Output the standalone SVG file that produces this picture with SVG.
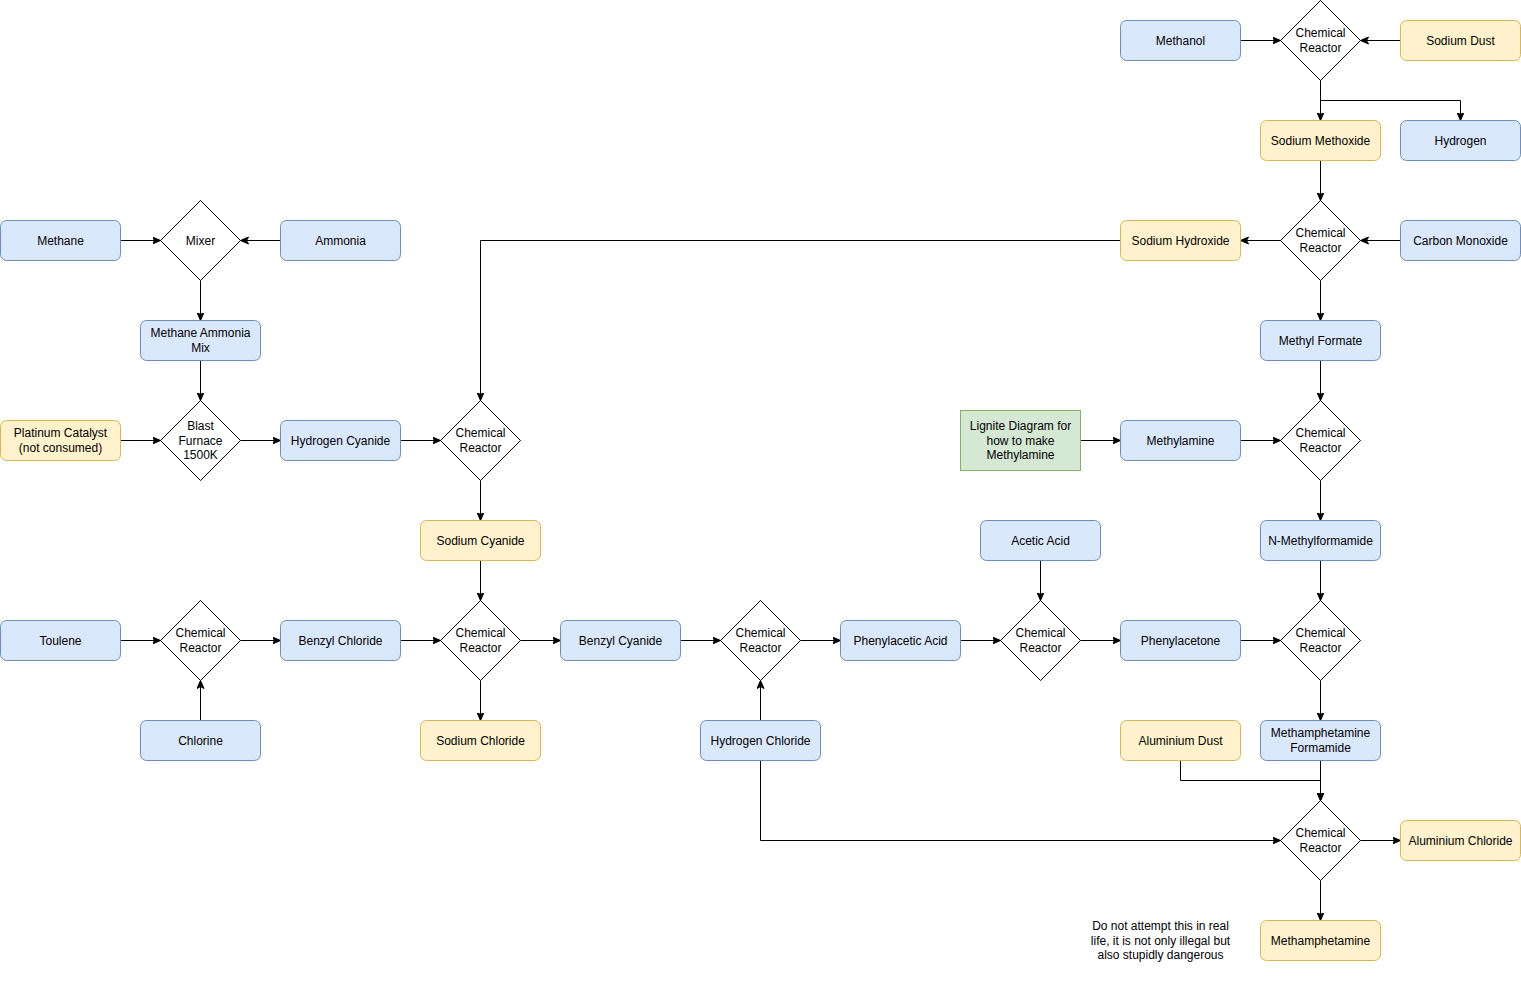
<svg xmlns="http://www.w3.org/2000/svg" width="1521" height="981" viewBox="0 0 1521 981">
<style>
text{font-family:"Liberation Sans",Arial,sans-serif;font-size:12px;fill:#000;text-anchor:middle}
.b{fill:#dae8fc;stroke:#6c8ebf;stroke-width:1}
.y{fill:#fff2cc;stroke:#d6b656;stroke-width:1}
.g{fill:#d5e8d4;stroke:#82b366;stroke-width:1}
.d{fill:#fff;stroke:#000;stroke-width:1}
.e{fill:none;stroke:#000;stroke-width:1;marker-end:url(#a)}
</style>
<defs>
<marker id="a" markerUnits="userSpaceOnUse" markerWidth="10" markerHeight="10" viewBox="0 0 10 10" refX="8" refY="4" orient="auto">
<path d="M0,0.5 L8,4 L0,7.5 L2,4 Z" fill="#000" stroke="#000" stroke-width="1"/>
</marker>
</defs>
<rect width="1521" height="981" fill="#fff"/>
<g id="edges">
<path class="e" d="M1240.5,40.5 H1280.5"/>
<path class="e" d="M1400.5,40.5 H1360.5"/>
<path class="e" d="M1320.5,80.5 V120.5"/>
<path class="e" d="M1320.5,80.5 V100.5 H1460.5 V120.5"/>
<path class="e" d="M1320.5,160.5 V200.5"/>
<path class="e" d="M1400.5,240.5 H1360.5"/>
<path class="e" d="M1280.5,240.5 H1240.5"/>
<path class="e" d="M1320.5,280.5 V320.5"/>
<path class="e" d="M1120.5,240.5 H480.5 V400.5"/>
<path class="e" d="M1320.5,360.5 V400.5"/>
<path class="e" d="M1080.5,440.5 H1120.5"/>
<path class="e" d="M1240.5,440.5 H1280.5"/>
<path class="e" d="M1320.5,480.5 V520.5"/>
<path class="e" d="M1320.5,560.5 V600.5"/>
<path class="e" d="M1240.5,640.5 H1280.5"/>
<path class="e" d="M1320.5,680.5 V720.5"/>
<path class="e" d="M1320.5,760.5 V800.5"/>
<path class="e" d="M1180.5,760.5 V780.5 H1320.5 V800.5"/>
<path class="e" d="M760.5,720.5 V680.5"/>
<path class="e" d="M760.5,760.5 V840.5 H1280.5"/>
<path class="e" d="M1360.5,840.5 H1400.5"/>
<path class="e" d="M1320.5,880.5 V920.5"/>
<path class="e" d="M120.5,240.5 H160.5"/>
<path class="e" d="M280.5,240.5 H240.5"/>
<path class="e" d="M200.5,280.5 V320.5"/>
<path class="e" d="M200.5,360.5 V400.5"/>
<path class="e" d="M120.5,440.5 H160.5"/>
<path class="e" d="M240.5,440.5 H280.5"/>
<path class="e" d="M400.5,440.5 H440.5"/>
<path class="e" d="M480.5,480.5 V520.5"/>
<path class="e" d="M480.5,560.5 V600.5"/>
<path class="e" d="M120.5,640.5 H160.5"/>
<path class="e" d="M200.5,720.5 V680.5"/>
<path class="e" d="M240.5,640.5 H280.5"/>
<path class="e" d="M400.5,640.5 H440.5"/>
<path class="e" d="M520.5,640.5 H560.5"/>
<path class="e" d="M480.5,680.5 V720.5"/>
<path class="e" d="M680.5,640.5 H720.5"/>
<path class="e" d="M800.5,640.5 H840.5"/>
<path class="e" d="M960.5,640.5 H1000.5"/>
<path class="e" d="M1040.5,560.5 V600.5"/>
<path class="e" d="M1080.5,640.5 H1120.5"/>
</g>
<g id="methanol"><rect class="b" x="1120.5" y="20.5" width="120" height="40" rx="6"/><text x="1180.5" y="44.5">Methanol</text></g>
<g id="r1"><path class="d" d="M1320.5,0.5 L1360.5,40.5 L1320.5,80.5 L1280.5,40.5 Z"/><text x="1320.5" y="37">Chemical</text><text x="1320.5" y="51.5">Reactor</text></g>
<g id="sodiumdust"><rect class="y" x="1400.5" y="20.5" width="120" height="40" rx="6"/><text x="1460.5" y="44.5">Sodium Dust</text></g>
<g id="sodiummethoxide"><rect class="y" x="1260.5" y="120.5" width="120" height="40" rx="6"/><text x="1320.5" y="144.5">Sodium Methoxide</text></g>
<g id="hydrogen"><rect class="b" x="1400.5" y="120.5" width="120" height="40" rx="6"/><text x="1460.5" y="144.5">Hydrogen</text></g>
<g id="methane"><rect class="b" x="0.5" y="220.5" width="120" height="40" rx="6"/><text x="60.5" y="244.5">Methane</text></g>
<g id="mixer"><path class="d" d="M200.5,200.5 L240.5,240.5 L200.5,280.5 L160.5,240.5 Z"/><text x="200.5" y="244.5">Mixer</text></g>
<g id="ammonia"><rect class="b" x="280.5" y="220.5" width="120" height="40" rx="6"/><text x="340.5" y="244.5">Ammonia</text></g>
<g id="sodiumhydroxide"><rect class="y" x="1120.5" y="220.5" width="120" height="40" rx="6"/><text x="1180.5" y="244.5">Sodium Hydroxide</text></g>
<g id="r2"><path class="d" d="M1320.5,200.5 L1360.5,240.5 L1320.5,280.5 L1280.5,240.5 Z"/><text x="1320.5" y="237">Chemical</text><text x="1320.5" y="251.5">Reactor</text></g>
<g id="carbonmonoxide"><rect class="b" x="1400.5" y="220.5" width="120" height="40" rx="6"/><text x="1460.5" y="244.5">Carbon Monoxide</text></g>
<g id="mam"><rect class="b" x="140.5" y="320.5" width="120" height="40" rx="6"/><text x="200.5" y="337">Methane Ammonia</text><text x="200.5" y="351.5">Mix</text></g>
<g id="methylformate"><rect class="b" x="1260.5" y="320.5" width="120" height="40" rx="6"/><text x="1320.5" y="344.5">Methyl Formate</text></g>
<g id="platinum"><rect class="y" x="0.5" y="420.5" width="120" height="40" rx="6"/><text x="60.5" y="437">Platinum Catalyst</text><text x="60.5" y="451.5">(not consumed)</text></g>
<g id="blast"><path class="d" d="M200.5,400.5 L240.5,440.5 L200.5,480.5 L160.5,440.5 Z"/><text x="200.5" y="429.5">Blast</text><text x="200.5" y="444.5">Furnace</text><text x="200.5" y="459">1500K</text></g>
<g id="hcn"><rect class="b" x="280.5" y="420.5" width="120" height="40" rx="6"/><text x="340.5" y="444.5">Hydrogen Cyanide</text></g>
<g id="r3"><path class="d" d="M480.5,400.5 L520.5,440.5 L480.5,480.5 L440.5,440.5 Z"/><text x="480.5" y="437">Chemical</text><text x="480.5" y="451.5">Reactor</text></g>
<g id="lignite"><rect class="g" x="960.5" y="410.5" width="120" height="60"/><text x="1020.5" y="429.5">Lignite Diagram for</text><text x="1020.5" y="444.5">how to make</text><text x="1020.5" y="459">Methylamine</text></g>
<g id="methylamine"><rect class="b" x="1120.5" y="420.5" width="120" height="40" rx="6"/><text x="1180.5" y="444.5">Methylamine</text></g>
<g id="r4"><path class="d" d="M1320.5,400.5 L1360.5,440.5 L1320.5,480.5 L1280.5,440.5 Z"/><text x="1320.5" y="437">Chemical</text><text x="1320.5" y="451.5">Reactor</text></g>
<g id="sodiumcyanide"><rect class="y" x="420.5" y="520.5" width="120" height="40" rx="6"/><text x="480.5" y="544.5">Sodium Cyanide</text></g>
<g id="aceticacid"><rect class="b" x="980.5" y="520.5" width="120" height="40" rx="6"/><text x="1040.5" y="544.5">Acetic Acid</text></g>
<g id="nmf"><rect class="b" x="1260.5" y="520.5" width="120" height="40" rx="6"/><text x="1320.5" y="544.5">N-Methylformamide</text></g>
<g id="toulene"><rect class="b" x="0.5" y="620.5" width="120" height="40" rx="6"/><text x="60.5" y="644.5">Toulene</text></g>
<g id="r5"><path class="d" d="M200.5,600.5 L240.5,640.5 L200.5,680.5 L160.5,640.5 Z"/><text x="200.5" y="637">Chemical</text><text x="200.5" y="651.5">Reactor</text></g>
<g id="benzylchloride"><rect class="b" x="280.5" y="620.5" width="120" height="40" rx="6"/><text x="340.5" y="644.5">Benzyl Chloride</text></g>
<g id="r6"><path class="d" d="M480.5,600.5 L520.5,640.5 L480.5,680.5 L440.5,640.5 Z"/><text x="480.5" y="637">Chemical</text><text x="480.5" y="651.5">Reactor</text></g>
<g id="benzylcyanide"><rect class="b" x="560.5" y="620.5" width="120" height="40" rx="6"/><text x="620.5" y="644.5">Benzyl Cyanide</text></g>
<g id="r7"><path class="d" d="M760.5,600.5 L800.5,640.5 L760.5,680.5 L720.5,640.5 Z"/><text x="760.5" y="637">Chemical</text><text x="760.5" y="651.5">Reactor</text></g>
<g id="phenylacetic"><rect class="b" x="840.5" y="620.5" width="120" height="40" rx="6"/><text x="900.5" y="644.5">Phenylacetic Acid</text></g>
<g id="r8"><path class="d" d="M1040.5,600.5 L1080.5,640.5 L1040.5,680.5 L1000.5,640.5 Z"/><text x="1040.5" y="637">Chemical</text><text x="1040.5" y="651.5">Reactor</text></g>
<g id="phenylacetone"><rect class="b" x="1120.5" y="620.5" width="120" height="40" rx="6"/><text x="1180.5" y="644.5">Phenylacetone</text></g>
<g id="r9"><path class="d" d="M1320.5,600.5 L1360.5,640.5 L1320.5,680.5 L1280.5,640.5 Z"/><text x="1320.5" y="637">Chemical</text><text x="1320.5" y="651.5">Reactor</text></g>
<g id="chlorine"><rect class="b" x="140.5" y="720.5" width="120" height="40" rx="6"/><text x="200.5" y="744.5">Chlorine</text></g>
<g id="sodiumchloride"><rect class="y" x="420.5" y="720.5" width="120" height="40" rx="6"/><text x="480.5" y="744.5">Sodium Chloride</text></g>
<g id="hcl"><rect class="b" x="700.5" y="720.5" width="120" height="40" rx="6"/><text x="760.5" y="744.5">Hydrogen Chloride</text></g>
<g id="aluminiumdust"><rect class="y" x="1120.5" y="720.5" width="120" height="40" rx="6"/><text x="1180.5" y="744.5">Aluminium Dust</text></g>
<g id="methform"><rect class="b" x="1260.5" y="720.5" width="120" height="40" rx="6"/><text x="1320.5" y="737">Methamphetamine</text><text x="1320.5" y="751.5">Formamide</text></g>
<g id="r10"><path class="d" d="M1320.5,800.5 L1360.5,840.5 L1320.5,880.5 L1280.5,840.5 Z"/><text x="1320.5" y="837">Chemical</text><text x="1320.5" y="851.5">Reactor</text></g>
<g id="aluminiumchloride"><rect class="y" x="1400.5" y="820.5" width="120" height="40" rx="6"/><text x="1460.5" y="844.5">Aluminium Chloride</text></g>
<g id="note"><text x="1160.5" y="929.5">Do not attempt this in real</text><text x="1160.5" y="944.5">life, it is not only illegal but</text><text x="1160.5" y="959">also stupidly dangerous</text></g>
<g id="meth"><rect class="y" x="1260.5" y="920.5" width="120" height="40" rx="6"/><text x="1320.5" y="944.5">Methamphetamine</text></g>
</svg>
